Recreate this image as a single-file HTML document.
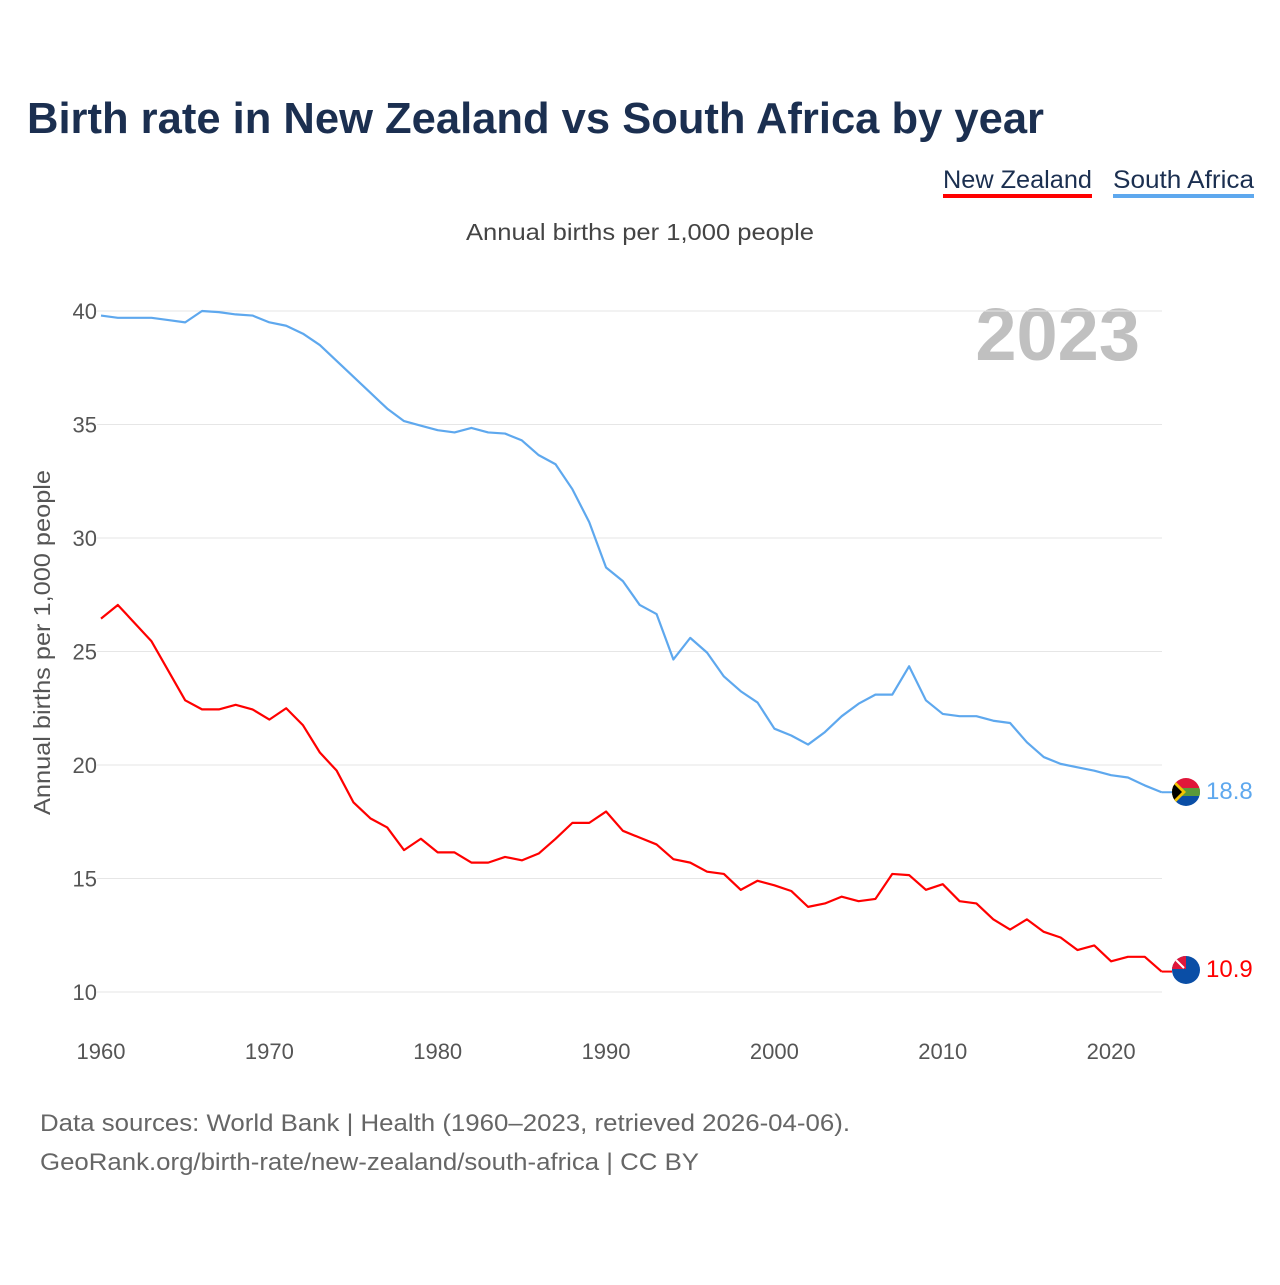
<!DOCTYPE html>
<html><head><meta charset="utf-8"><style>
body{margin:0;background:#fff;width:1280px;height:1280px;overflow:hidden;font-family:"Liberation Sans",sans-serif}
</style></head><body>
<svg width="1280" height="1280" xmlns="http://www.w3.org/2000/svg" id="chart">
<text x="27" y="133" font-size="44" font-weight="bold" fill="#1b2f50" textLength="1017" lengthAdjust="spacingAndGlyphs">Birth rate in New Zealand vs South Africa by year</text>
<g><text x="943" y="188" font-size="25" fill="#1b2f50" textLength="149" lengthAdjust="spacingAndGlyphs">New Zealand</text><rect x="943" y="194" width="149" height="4" fill="#ff0000"/></g>
<g><text x="1113" y="188" font-size="25" fill="#1b2f50" textLength="141" lengthAdjust="spacingAndGlyphs">South Africa</text><rect x="1113" y="194" width="141" height="4" fill="#5ea8ee"/></g>
<text x="466" y="240" font-size="23" fill="#444" textLength="348" lengthAdjust="spacingAndGlyphs">Annual births per 1,000 people</text>
<text x="1140" y="360" text-anchor="end" font-size="74" font-weight="bold" fill="#c0c0c0">2023</text>
<text transform="translate(50,815) rotate(-90)" font-size="23" fill="#555" textLength="345" lengthAdjust="spacingAndGlyphs">Annual births per 1,000 people</text>
<g id="grid"></g><g id="yticks"></g><g id="xticks"></g><g id="lines"></g>
<g>
<clipPath id="c1"><circle cx="1186" cy="792" r="14"/></clipPath>
<g clip-path="url(#c1)"><rect x="1170" y="776" width="32" height="16" fill="#e0163a"/><rect x="1170" y="792" width="32" height="16" fill="#0a4ea6"/><rect x="1170" y="788" width="32" height="8" fill="#5a9a3a"/><polygon points="1172,778 1186,792 1172,806" fill="#f2c200"/><polygon points="1172,782 1182,792 1172,802" fill="#000"/></g></g>
<g>
<clipPath id="c2"><circle cx="1186" cy="970" r="14"/></clipPath>
<g clip-path="url(#c2)"><rect x="1170" y="954" width="32" height="32" fill="#0a4ea6"/><rect x="1172" y="956" width="14" height="13" fill="#e0163a"/><line x1="1174" y1="958" x2="1184" y2="968" stroke="#fff" stroke-width="2"/></g></g>
<text x="1206" y="799" font-size="24" fill="#5ea8ee">18.8</text>
<text x="1206" y="977" font-size="24" fill="#ff0000">10.9</text>
<text x="40" y="1131" font-size="24" fill="#666" textLength="810" lengthAdjust="spacingAndGlyphs">Data sources: World Bank | Health (1960–2023, retrieved 2026-04-06).</text>
<text x="40" y="1170" font-size="24" fill="#666" textLength="659" lengthAdjust="spacingAndGlyphs">GeoRank.org/birth-rate/new-zealand/south-africa | CC BY</text>
</svg>
<script>
const years=[];for(let y=1960;y<=2023;y++)years.push(y);
const southAfrica=[39.8,39.7,39.7,39.7,39.6,39.5,40.0,39.95,39.85,39.8,39.5,39.35,39.0,38.5,37.8,37.1,36.4,35.7,35.15,34.95,34.75,34.65,34.85,34.65,34.6,34.3,33.65,33.25,32.15,30.7,28.7,28.1,27.05,26.65,24.65,25.6,24.95,23.9,23.25,22.75,21.6,21.3,20.9,21.45,22.15,22.7,23.1,23.1,24.35,22.85,22.25,22.15,22.15,21.95,21.85,21.0,20.35,20.05,19.9,19.75,19.55,19.45,19.1,18.8];
const newZealand=[26.45,27.05,26.25,25.45,24.15,22.85,22.45,22.45,22.65,22.45,22.0,22.5,21.75,20.55,19.75,18.35,17.65,17.25,16.25,16.75,16.15,16.15,15.7,15.7,15.95,15.8,16.1,16.75,17.45,17.45,17.95,17.1,16.8,16.5,15.85,15.7,15.3,15.2,14.5,14.9,14.7,14.45,13.75,13.9,14.2,14.0,14.1,15.2,15.15,14.5,14.75,14.0,13.9,13.2,12.75,13.2,12.65,12.4,11.85,12.05,11.35,11.55,11.55,10.9];
const yTicks=[10,15,20,25,30,35,40];
const xTicks=[1960,1970,1980,1990,2000,2010,2020];
const NS="http://www.w3.org/2000/svg";
const X=v=>101+(v-1960)*16.835;
const Y=v=>992-(v-10)*22.7;
function mk(t,a,p){const e=document.createElementNS(NS,t);for(const k in a)e.setAttribute(k,a[k]);p.appendChild(e);return e;}
const grid=document.getElementById('grid'),yt=document.getElementById('yticks'),xt=document.getElementById('xticks'),ln=document.getElementById('lines');
yTicks.forEach(v=>{
 const l=mk('line',{x1:97,x2:1162,y1:Y(v),y2:Y(v),stroke:'#e6e6e6','stroke-width':1},grid);
 
 
 const t=mk('text',{x:97,y:Y(v)+8,'text-anchor':'end','font-size':22,fill:'#555'},yt);t.textContent=v;
 
 
});
xTicks.forEach(v=>{
 const t=mk('text',{x:X(v),y:1059,'text-anchor':'middle','font-size':22,fill:'#555'},xt);t.textContent=v;
 
 
});
function line(d,c,n){
 const p=mk('polyline',{points:d.map((v,i)=>X(years[i])+','+Y(v)).join(' '),fill:'none',stroke:c,'stroke-width':2.2,'stroke-linejoin':'round'},ln);
 
 
 const i=d.length-1;
 mk('line',{x1:X(years[i]),x2:1172,y1:Y(d[i]),y2:Y(d[i]),stroke:c,'stroke-width':2},ln);
}
line(southAfrica,'#5ea8ee','series-south-africa');
line(newZealand,'#ff0000','series-new-zealand');
</script>
</body></html>
